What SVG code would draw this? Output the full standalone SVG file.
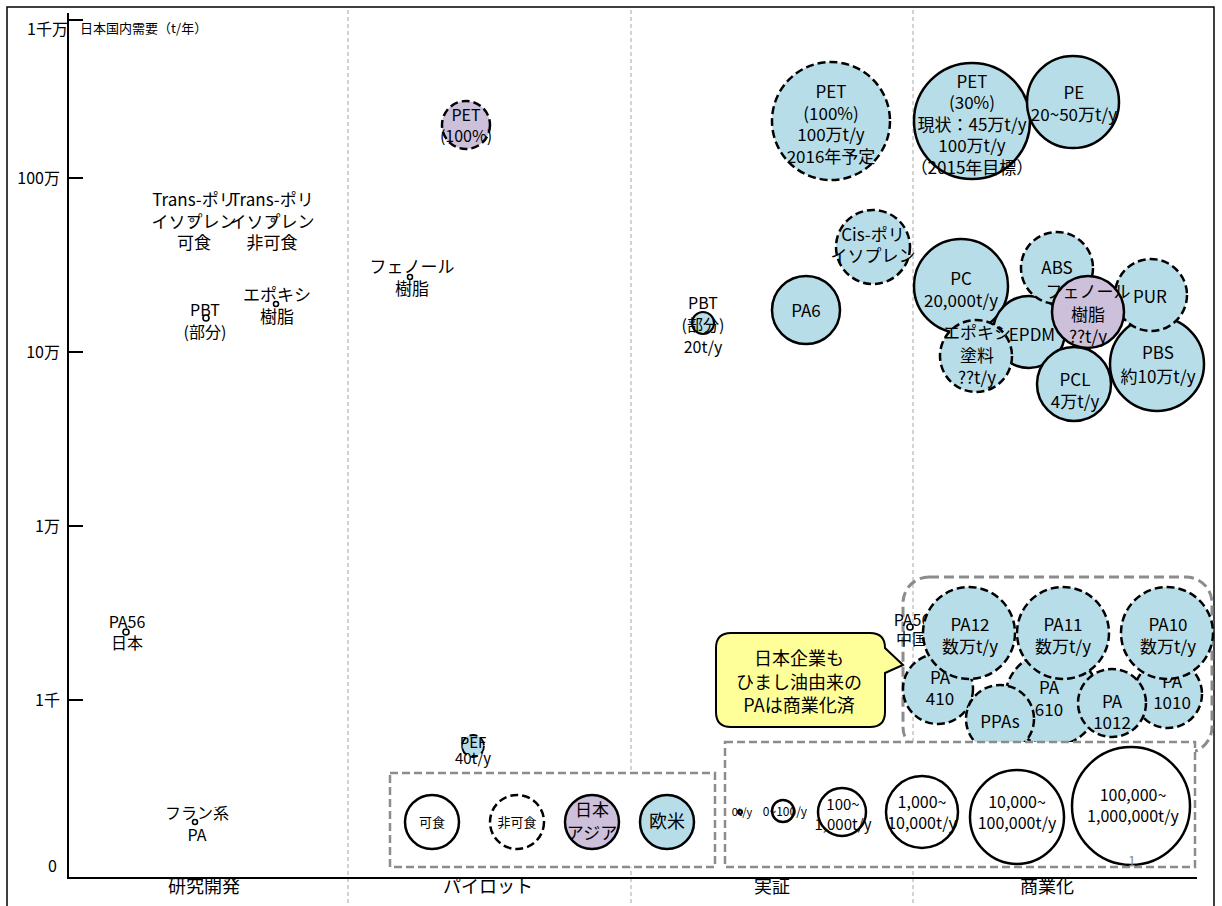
<svg xmlns="http://www.w3.org/2000/svg" width="1222" height="906" viewBox="0 0 1222 906">
  <style>
    text { font-family: "Noto Sans CJK JP", "Liberation Sans", sans-serif; fill: #000; text-anchor: middle; font-size: 17px; }
    .blue { fill: #B7DDE8; stroke: #000; stroke-width: 2.5; }
    .purple { fill: #CCC0DA; stroke: #000; stroke-width: 2.5; }
    .white { fill: #fff; stroke: #000; stroke-width: 2.5; }
    .dash { stroke-dasharray: 8 4; }
    .dot { fill: #fff; stroke: #000; stroke-width: 1.6; }
    .grid { stroke: #A6A6A6; stroke-width: 1; stroke-dasharray: 4 3; }
    .axis { stroke: #000; stroke-width: 2; fill: none; }
    .ylab { font-size: 16px; text-anchor: end; }
    .xlab { font-size: 18px; }
    .small { font-size: 15px; }
    .legbox { fill: #fff; stroke: #8C8C8C; stroke-width: 2.5; stroke-dasharray: 8 4; }
  </style>

  <!-- frame -->
  <rect x="7" y="7" width="1207" height="910" fill="#fff" stroke="#000" stroke-width="1.5"/>

  <!-- stage separators -->
  <g id="grid">
    <line class="grid" x1="348" y1="10" x2="348" y2="906"/>
    <line class="grid" x1="631" y1="10" x2="631" y2="906"/>
    <line class="grid" x1="913" y1="10" x2="913" y2="906"/>
  </g>

  <!-- axes -->
  <g id="axes">
    <line class="axis" x1="68" y1="13" x2="68" y2="878"/>
    <line class="axis" x1="67" y1="878" x2="1197" y2="878"/>
    <line class="axis" x1="68" y1="20" x2="83" y2="20"/>
    <line class="axis" x1="68" y1="178" x2="83" y2="178"/>
    <line class="axis" x1="68" y1="352" x2="83" y2="352"/>
    <line class="axis" x1="68" y1="526" x2="83" y2="526"/>
    <line class="axis" x1="68" y1="700" x2="83" y2="700"/>
    <text class="ylab" x="68" y="35">1千万</text>
    <text class="ylab" x="60" y="184">100万</text>
    <text class="ylab" x="60" y="358">10万</text>
    <text class="ylab" x="60" y="532">1万</text>
    <text class="ylab" x="60" y="706">1千</text>
    <text class="ylab" x="57" y="872">0</text>
    <text x="80" y="33" style="font-size:13px;text-anchor:start">日本国内需要（t/年）</text>
    <text class="xlab" x="204" y="893">研究開発</text>
    <text class="xlab" x="488" y="893">パイロット</text>
    <text class="xlab" x="772" y="893">実証</text>
    <text class="xlab" x="1047" y="893">商業化</text>
  </g>

  <!-- research stage -->
  <g id="trans-pi-edible">
    <circle cx="192" cy="220" r="2" fill="#B7DDE8" stroke="#000" stroke-width="0.8"/>
    <text x="194" y="206">Trans-ポリ<tspan x="194" dy="21.5">イソプレン</tspan><tspan x="194" dy="21.5">可食</tspan></text>
  </g>
  <g id="trans-pi-nonedible">
    <circle cx="273" cy="220" r="2" fill="#B7DDE8" stroke="#000" stroke-width="0.8"/>
    <text x="272" y="206">Trans-ポリ<tspan x="272" dy="21.5">イソプレン</tspan><tspan x="272" dy="21.5">非可食</tspan></text>
  </g>
  <g id="pbt-research">
    <text x="205" y="316" style="font-size:16px">PBT<tspan x="205" dy="22">(部分)</tspan></text>
    <circle class="dot" cx="206" cy="318" r="3"/>
  </g>
  <g id="epoxy-research">
    <text x="277" y="301">エポキシ<tspan x="277" dy="22">樹脂</tspan></text>
    <circle class="dot" cx="276" cy="304" r="2.5"/>
  </g>
  <g id="pa56-japan">
    <text x="127" y="628" style="font-size:16px">PA56<tspan x="127" dy="21">日本</tspan></text>
    <circle class="dot" cx="126" cy="632" r="3"/>
  </g>
  <g id="furan-pa">
    <text x="197" y="819" style="font-size:16px">フラン系<tspan x="197" dy="22">PA</tspan></text>
    <circle class="dot" cx="195" cy="822" r="2.5"/>
  </g>

  <!-- pilot stage -->
  <g id="pet-pilot">
    <circle class="purple dash" cx="466" cy="125" r="24"/>
    <text x="466" y="121" style="font-size:16px">PET<tspan x="466" dy="21">(100%)</tspan></text>
  </g>
  <g id="phenol-pilot">
    <text x="412" y="273">フェノール<tspan x="412" dy="22">樹脂</tspan></text>
    <circle class="dot" cx="410" cy="277" r="2.5"/>
  </g>
  <g id="pef">
    <circle class="blue dash" cx="473" cy="746" r="11" style="stroke-width:1.8"/>
    <text x="473" y="748" class="small">PEF<tspan x="473" dy="16">40t/y</tspan></text>
  </g>

  <!-- demonstration stage -->
  <g id="pbt-demo">
    <circle class="blue" cx="703" cy="323" r="11" style="stroke-width:2"/>
    <text x="703" y="309" style="font-size:16px">PBT<tspan x="703" dy="22">(部分)</tspan><tspan x="703" dy="22">20t/y</tspan></text>
  </g>
  <g id="pa6">
    <circle class="blue" cx="806" cy="310" r="34"/>
    <text x="806" y="317">PA6</text>
  </g>
  <g id="pet-demo">
    <circle class="blue dash" cx="831" cy="121" r="59"/>
    <text x="831" y="98">PET<tspan x="831" dy="21.5">(100%)</tspan><tspan x="831" dy="21.5">100万t/y</tspan><tspan x="831" dy="21.5">2016年予定</tspan></text>
  </g>
  <g id="cis-pi">
    <circle class="blue dash" cx="873" cy="247" r="37"/>
    <text x="873" y="241">Cis-ポリ<tspan x="873" dy="20.5">イソプレン</tspan></text>
  </g>

  <!-- commercial stage -->
  <g id="pet-commercial">
    <circle class="blue" cx="972" cy="121" r="58"/>
    <text x="972" y="87.5">PET<tspan x="972" dy="21.5">(30%)</tspan><tspan x="972" dy="21.5">現状：45万t/y</tspan><tspan x="972" dy="21.5">100万t/y</tspan><tspan x="972" dy="21.5">（2015年目標）</tspan></text>
  </g>
  <g id="pe">
    <circle class="blue" cx="1073" cy="102" r="46"/>
    <text x="1074" y="99">PE<tspan x="1074" dy="22">20~50万t/y</tspan></text>
  </g>
  <g id="pc">
    <circle class="blue" cx="961" cy="286" r="47"/>
    <text x="961" y="285">PC<tspan x="961" dy="22">20,000t/y</tspan></text>
  </g>
  <g id="epdm">
    <circle class="blue" cx="1029" cy="332" r="36"/>
    <text x="1032" y="341">EPDM</text>
  </g>
  <g id="epoxy-coating">
    <circle class="blue dash" cx="976" cy="356" r="36"/>
    <text x="977" y="339">エポキシ<tspan x="977" dy="22.5">塗料</tspan><tspan x="977" dy="22">??t/y</tspan></text>
  </g>
  <g id="abs">
    <circle class="blue dash" cx="1057" cy="268" r="36"/>
    <text x="1057" y="274">ABS</text>
  </g>
  <g id="pbs">
    <circle class="blue" cx="1157" cy="364" r="47"/>
    <text x="1158" y="359">PBS<tspan x="1158" dy="24">約10万t/y</tspan></text>
  </g>
  <g id="pur">
    <circle class="blue dash" cx="1151" cy="295" r="36"/>
    <text x="1150" y="303">PUR</text>
  </g>
  <g id="pcl">
    <circle class="blue" cx="1074" cy="384" r="37"/>
    <text x="1075" y="386">PCL<tspan x="1075" dy="22">4万t/y</tspan></text>
  </g>
  <g id="phenol-commercial">
    <circle class="purple" cx="1088" cy="312" r="36"/>
    <text x="1088" y="298">フェノール<tspan x="1088" dy="23">樹脂</tspan><tspan x="1088" dy="22">??t/y</tspan></text>
  </g>

  <!-- polyamide group -->
  <g id="pa-group">
    <rect x="903" y="577" width="309" height="176" rx="26" fill="none" stroke="#8C8C8C" stroke-width="3" stroke-dasharray="10 5"/>
  </g>
  <g id="pa56-china">
    <text x="912" y="626" style="font-size:16px">PA56<tspan x="912" dy="19">中国</tspan></text>
    <circle class="dot" cx="910" cy="627" r="3"/>
  </g>
  <g id="pa1010">
    <circle class="blue dash" cx="1168" cy="694" r="34"/>
    <text x="1172" y="688">PA<tspan x="1172" dy="21">1010</tspan></text>
  </g>
  <g id="pa610">
    <circle class="blue dash" cx="1052" cy="699" r="47"/>
    <text x="1049" y="694">PA<tspan x="1049" dy="22">610</tspan></text>
  </g>
  <g id="pa410">
    <circle class="blue dash" cx="938" cy="689" r="35"/>
    <text x="940" y="684">PA<tspan x="940" dy="21">410</tspan></text>
  </g>
  <g id="ppas">
    <circle class="blue dash" cx="1000" cy="719" r="34"/>
    <text x="1000" y="728">PPAs</text>
  </g>
  <g id="pa1012">
    <circle class="blue dash" cx="1112" cy="703" r="34"/>
    <text x="1112" y="708">PA<tspan x="1112" dy="21">1012</tspan></text>
  </g>
  <g id="pa12">
    <circle class="blue dash" cx="969" cy="633" r="46"/>
    <text x="970" y="631">PA12<tspan x="970" dy="22">数万t/y</tspan></text>
  </g>
  <g id="pa11">
    <circle class="blue dash" cx="1063" cy="633" r="46"/>
    <text x="1063" y="631">PA11<tspan x="1063" dy="22">数万t/y</tspan></text>
  </g>
  <g id="pa10">
    <circle class="blue dash" cx="1167" cy="633" r="46"/>
    <text x="1168" y="631">PA10<tspan x="1168" dy="22">数万t/y</tspan></text>
  </g>

  <!-- callout -->
  <g id="callout">
    <path d="M731,633 H870 Q885,633 885,648 L903,665 L885,673 V712 Q885,727 870,727 H731 Q716,727 716,712 V648 Q716,633 731,633 Z" fill="#FFFF99" stroke="#000" stroke-width="2"/>
    <text x="799" y="665" style="font-size:18px">日本企業も<tspan x="799" dy="23.5">ひまし油由来の</tspan><tspan x="799" dy="23">PAは商業化済</tspan></text>
  </g>

  <!-- legend: feedstock / region -->
  <g id="legend-type">
    <rect class="legbox" x="390" y="773" width="325" height="94"/>
    <circle class="white" cx="432" cy="822" r="27"/>
    <text x="432" y="827" style="font-size:13px">可食</text>
    <circle class="white dash" cx="517" cy="822" r="27"/>
    <text x="517" y="827" style="font-size:13px">非可食</text>
    <circle class="purple" cx="592" cy="822" r="27"/>
    <text x="592" y="816">日本<tspan x="592" dy="23">アジア</tspan></text>
    <circle class="blue" cx="667" cy="822" r="27"/>
    <text x="667" y="828" style="font-size:18px">欧米</text>
  </g>

  <!-- legend: volume scale -->
  <g id="legend-size">
    <rect class="legbox" x="725" y="742" width="470" height="125"/>
    <circle class="white" cx="740" cy="812" r="2" style="stroke-width:2"/>
    <text x="742" y="816" style="font-size:11px">0t/y</text>
    <circle class="white" cx="783" cy="811" r="11" style="fill:none"/>
    <text x="785" y="816" style="font-size:12px">0~100/y</text>
    <circle class="white" cx="842" cy="812" r="24" style="fill:none"/>
    <text x="843" y="810" style="font-size:15px">100~<tspan x="843" dy="20">1,000t/y</tspan></text>
    <circle class="white" cx="922" cy="812" r="36" style="fill:none"/>
    <text x="922" y="808" style="font-size:16px">1,000~<tspan x="922" dy="21">10,000t/y</tspan></text>
    <circle class="white" cx="1017" cy="817" r="47" style="fill:none"/>
    <text x="1017" y="808" style="font-size:16px">10,000~<tspan x="1017" dy="21">100,000t/y</tspan></text>
    <circle class="white" cx="1131" cy="806" r="59" style="fill:none"/>
    <text x="1133" y="801" style="font-size:16px">100,000~<tspan x="1133" dy="21">1,000,000t/y</tspan></text>
    <text x="1132" y="866" style="font-size:14px;fill:#8C8C8C">1</text>
  </g>
</svg>
